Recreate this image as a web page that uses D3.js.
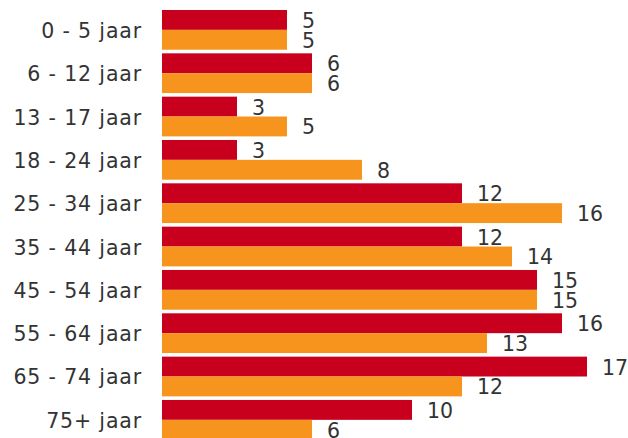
<!DOCTYPE html>
<html><head><meta charset="utf-8">
<script src="https://cdn.jsdelivr.net/npm/d3@7"></script>
<style>html,body{margin:0;padding:0;background:#fff;overflow:hidden}</style>
</head><body>
<svg id="c" width="628" height="438"></svg>
<script>
const categories = ["0 - 5 jaar","6 - 12 jaar","13 - 17 jaar","18 - 24 jaar","25 - 34 jaar","35 - 44 jaar","45 - 54 jaar","55 - 64 jaar","65 - 74 jaar","75+ jaar"];
const seriesNames = ["A","B"];
const seriesA = [5,6,3,3,12,12,15,16,17,10];
const seriesB = [5,6,5,8,16,14,15,13,12,6];
const colors = ["#C8001E","#F7941D"];

const svg = d3.select("#c");
const x = d3.scaleLinear().domain([0,17]).range([162,587]);
const y = d3.scaleBand().domain(categories).range([8.2,441.5]).paddingInner(0.083).paddingOuter(0.0415);
const sub = d3.scaleBand().domain(seriesNames).range([0,y.bandwidth()]);
const rows = categories.map((c,i)=>({c, vals:[seriesA[i],seriesB[i]]}));

const g = svg.selectAll("g.row").data(rows).join("g").attr("class","row")
  .attr("transform",d=>`translate(0,${y(d.c)})`);
g.append("text").attr("x",142).attr("y",y.bandwidth()/2+1).attr("text-anchor","end")
  .attr("dominant-baseline","central").attr("font-family","DejaVu Sans, Verdana, sans-serif")
  .attr("font-size",20.5).attr("letter-spacing",0.85).attr("fill","#333").text(d=>d.c);
g.selectAll("rect").data(d=>d.vals.map((v,j)=>({v,j}))).join("rect")
  .attr("x",x(0)).attr("y",d=>sub(seriesNames[d.j])).attr("height",sub.bandwidth())
  .attr("width",d=>x(d.v)-x(0)).attr("fill",d=>colors[d.j]);
g.selectAll("text.val").data(d=>d.vals.map((v,j)=>({v,j}))).join("text").attr("class","val")
  .attr("x",d=>x(d.v)+15).attr("y",d=>sub(seriesNames[d.j])+sub.bandwidth()/2+1)
  .attr("dominant-baseline","central").attr("font-family","DejaVu Sans, Verdana, sans-serif")
  .attr("font-size",20.5).attr("fill","#333").text(d=>d.v);
</script>
</body></html>
